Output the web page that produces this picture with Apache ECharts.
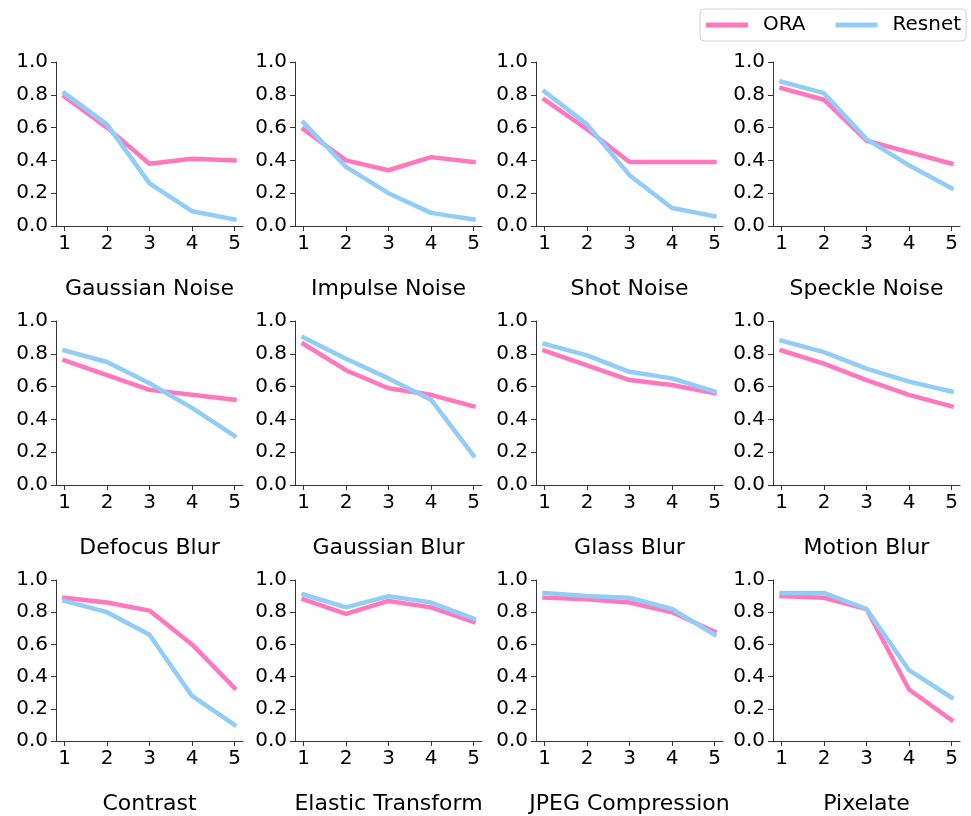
<!DOCTYPE html>
<html>
<head>
<meta charset="utf-8">
<script src="https://cdn.jsdelivr.net/npm/echarts@6/dist/echarts.min.js"></script>
<style>
    html, body {margin: 0; padding: 0; background: #fff;}
    #main {width: 971px; height: 816px;}
</style>
</head>
<body>
<div id="main"></div>
<script>
// severity levels on the x axis
const levels = [1, 2, 3, 4, 5];

const corruptions = [
    'Gaussian Noise', 'Impulse Noise', 'Shot Noise', 'Speckle Noise',
    'Defocus Blur', 'Gaussian Blur', 'Glass Blur', 'Motion Blur',
    'Contrast', 'Elastic Transform', 'JPEG Compression', 'Pixelate'
];

const oraScores = [
    [0.79, 0.60, 0.38, 0.41, 0.40],
    [0.59, 0.40, 0.34, 0.42, 0.39],
    [0.77, 0.59, 0.39, 0.39, 0.39],
    [0.84, 0.77, 0.52, 0.45, 0.38],
    [0.76, 0.67, 0.58, 0.55, 0.52],
    [0.86, 0.70, 0.59, 0.55, 0.48],
    [0.82, 0.73, 0.64, 0.61, 0.56],
    [0.82, 0.74, 0.64, 0.55, 0.48],
    [0.89, 0.86, 0.81, 0.60, 0.33],
    [0.88, 0.79, 0.87, 0.83, 0.74],
    [0.89, 0.88, 0.86, 0.80, 0.68],
    [0.90, 0.89, 0.82, 0.32, 0.13]
];

const resnetScores = [
    [0.81, 0.62, 0.26, 0.09, 0.04],
    [0.63, 0.36, 0.20, 0.08, 0.04],
    [0.82, 0.62, 0.31, 0.11, 0.06],
    [0.88, 0.81, 0.53, 0.37, 0.23],
    [0.82, 0.75, 0.62, 0.47, 0.30],
    [0.90, 0.77, 0.65, 0.52, 0.18],
    [0.86, 0.79, 0.69, 0.65, 0.57],
    [0.88, 0.81, 0.71, 0.63, 0.57],
    [0.87, 0.80, 0.66, 0.28, 0.10],
    [0.91, 0.83, 0.90, 0.86, 0.76],
    [0.92, 0.90, 0.89, 0.82, 0.66],
    [0.92, 0.92, 0.82, 0.44, 0.27]
];

const PINK = '#ff78be';
const BLUE = '#92cdf8';
const FONT = 'DejaVu Sans';

const colLefts = [56, 295, 536, 773];
const rowTops = [62, 321, 580];
const gridW = 187;
const gridH = 164;

const axisLine = {show: true, lineStyle: {color: '#333', width: 1}};
const axisTick = {show: true, length: 5, lineStyle: {color: '#333', width: 1}};

const grids = [], xAxes = [], yAxes = [], series = [];

corruptions.forEach((name, i) => {
    const row = Math.floor(i / 4), col = i % 4;
    grids.push({left: colLefts[col], top: rowTops[row], width: gridW, height: gridH});
    xAxes.push({
        type: 'value', gridIndex: i, min: 0.8, max: 5.2,
        name: name, nameLocation: 'middle', nameGap: 52,
        nameTextStyle: {fontFamily: FONT, fontSize: 22, color: '#000'},
        axisLine: axisLine,
        axisTick: Object.assign({customValues: levels}, axisTick),
        axisLabel: {customValues: levels, margin: 8, fontFamily: FONT, fontSize: 20, color: '#000'},
        splitLine: {show: false}
    });
    yAxes.push({
        type: 'value', gridIndex: i, min: 0, max: 1, interval: 0.2,
        axisLine: axisLine,
        axisTick: axisTick,
        axisLabel: {margin: 8, fontFamily: FONT, fontSize: 20, color: '#000',
            formatter: v => v.toFixed(1)},
        splitLine: {show: false}
    });
    [['ORA', oraScores[i], PINK], ['Resnet', resnetScores[i], BLUE]].forEach(([sName, vals, color]) => {
        series.push({
            name: sName, type: 'line', xAxisIndex: i, yAxisIndex: i,
            data: levels.map((lv, k) => [lv, vals[k]]),
            showSymbol: false, symbol: 'none', clip: false, silent: true,
            color: color,
            lineStyle: {color: color, width: 4.5, cap: 'square', join: 'round'}
        });
    });
});

const chart = echarts.init(document.getElementById('main'));
chart.setOption({
    backgroundColor: '#fff',
    animation: false,
    legend: {
        data: ['ORA', 'Resnet'],
        left: 700, top: 9,
        padding: [6, 5, 6, 6],
        icon: 'rect', itemWidth: 42, itemHeight: 5, itemGap: 30,
        borderColor: '#d0d0d0', borderWidth: 1, borderRadius: 4,
        textStyle: {fontFamily: FONT, fontSize: 20, color: '#000', padding: [0, 0, 0, 10]}
    },
    grid: grids,
    xAxis: xAxes,
    yAxis: yAxes,
    series: series
});
</script>
</body>
</html>
